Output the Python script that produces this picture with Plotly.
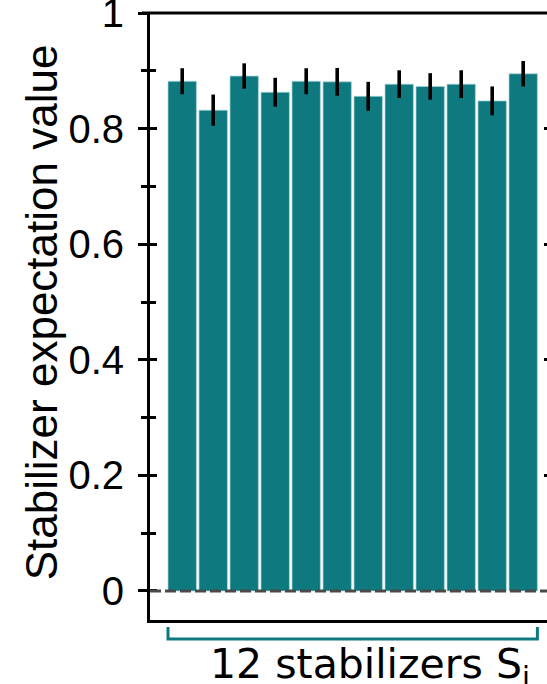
import plotly.graph_objects as go

stabilizers = [f"S{i}" for i in range(1, 13)]
values = [0.882, 0.832, 0.891, 0.863, 0.882, 0.881, 0.856, 0.877, 0.873, 0.877, 0.848, 0.895]
errors = [0.0225, 0.027, 0.022, 0.025, 0.0225, 0.024, 0.025, 0.024, 0.023, 0.024, 0.025, 0.022]
tick_vals = [0, 0.2, 0.4, 0.6, 0.8, 1.0]
tick_text = ["0", "0.2", "0.4", "0.6", "0.8", "1"]

TEAL = "#0e7a80"
FONT = "Liberation Sans, Arial, sans-serif"
FONT_X = "DejaVu Sans, sans-serif"
bargap = 0.084
yr = [-0.0502, 1.0001]
n = len(stabilizers)

fig = go.Figure()
fig.add_trace(go.Bar(
    x=stabilizers, y=values,
    marker=dict(color=TEAL, line=dict(color="rgba(170,215,217,0.9)", width=0.8)),
    error_y=dict(type="data", array=errors, visible=True, color="black",
                 thickness=3.6, width=0),
    showlegend=False,
))

fig.update_layout(
    width=547, height=684,
    margin=dict(l=150, r=0, t=13, b=64, autoexpand=False),
    paper_bgcolor="white", plot_bgcolor="white",
    bargap=bargap,
    font=dict(family=FONT, color="black"),
    xaxis=dict(range=[-1.039, 11.768], showline=True, mirror=False, linewidth=3,
               linecolor="black", showticklabels=False, ticks="", showgrid=False,
               zeroline=False, automargin=False),
    yaxis=dict(range=yr, showline=True, linewidth=3, linecolor="black",
               tickvals=tick_vals, ticktext=tick_text, ticks="outside", ticklen=9,
               tickwidth=3, tickcolor="black", tickfont=dict(size=40, family=FONT),
               ticklabelstandoff=6, ticklabeloverflow="allow", automargin=False,
               minor=dict(ticks="outside", ticklen=6, tickwidth=3, tickcolor="black",
                          dtick=0.1, tick0=0, showgrid=False),
               showgrid=False, zeroline=False),
    yaxis2=dict(range=yr, overlaying="y", side="left", anchor="x", showline=False,
                tickvals=tick_vals, ticks="inside", ticklen=7, tickwidth=3,
                tickcolor="black", showticklabels=False, automargin=False,
                minor=dict(ticks="inside", ticklen=6, tickwidth=3, tickcolor="black",
                           dtick=0.1, tick0=0, showgrid=False),
                showgrid=False, zeroline=False),
    yaxis3=dict(range=yr, overlaying="y", side="right", anchor="x", showline=False,
                tickvals=tick_vals[1:-1], ticks="inside", ticklen=3, tickwidth=3,
                tickcolor="black", showticklabels=False, showgrid=False,
                zeroline=False, automargin=False),
)
# invisible traces to activate overlay axes
fig.add_trace(go.Scatter(x=[stabilizers[0]], y=[0], yaxis="y2", mode="markers",
                         marker=dict(opacity=0), showlegend=False, hoverinfo="skip"))
fig.add_trace(go.Scatter(x=[stabilizers[0]], y=[0], yaxis="y3", mode="markers",
                         marker=dict(opacity=0), showlegend=False, hoverinfo="skip"))

# top frame line
fig.add_shape(type="line", xref="paper", yref="paper", x0=-0.02, x1=1, y0=1, y1=1,
              line=dict(color="black", width=3), layer="above")

# dashed zero line
fig.add_shape(type="line", xref="paper", yref="y", x0=0, x1=1, y0=0, y1=0,
              line=dict(color="#4a4a4a", width=3, dash="11px,4px"), layer="above")

# bracket under the bars
xl = -0.5 + bargap / 2
xr = (n - 1) + 0.5 - bargap / 2
fig.add_shape(type="path", xref="x", yref="paper",
              path=f"M {xl},-0.0115 L {xl},-0.0313 L {xr},-0.0313 L {xr},-0.0115",
              line=dict(color=TEAL, width=3))

fig.add_annotation(text="12 stabilizers S<sub>i</sub>", xref="x", yref="paper",
                   x=6.05, y=-0.0295, xanchor="center", yanchor="top", showarrow=False,
                   font=dict(size=41, family=FONT_X))
fig.add_annotation(text="Stabilizer expectation value", xref="paper", yref="paper",
                   x=-0.2746, y=0.507, xanchor="center", yanchor="middle",
                   textangle=-90, showarrow=False, font=dict(size=44, family=FONT))

fig.write_html("out.html")
